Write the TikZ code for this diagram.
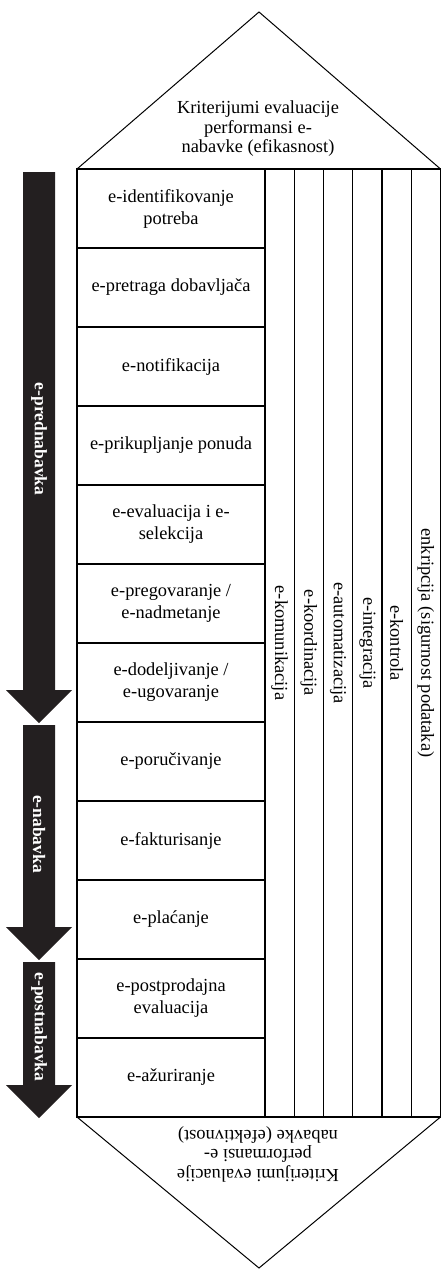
\documentclass[tikz,border=0pt]{standalone}
\usepackage{fontspec}
\setmainfont{Liberation Serif}
\definecolor{arrowblack}{HTML}{231F20}
\begin{document}
\begin{tikzpicture}[x=1pt,y=-1pt,
  cell/.style={draw, line width=1.2pt, minimum width=188pt, minimum height=79pt, inner sep=0pt, align=center, font=\fontsize{18.4}{22}\selectfont},
  col/.style={draw, line width=1.2pt, minimum width=29.25pt, minimum height=948pt, inner sep=0pt},
  vlab/.style={rotate=-90, font=\fontsize{18.4}{22}\selectfont, inner sep=0pt},
  phase/.style={fill=arrowblack, draw=none},
  plab/.style={rotate=-90, text=white, font=\bfseries\fontsize{17.5}{20}\selectfont, inner sep=0pt},
  tri/.style={draw, line width=1pt, line join=miter},
  tlab/.style={align=center, font=\fontsize{18.4}{19.5}\selectfont, inner sep=0pt}]
\useasboundingbox (0,0) rectangle (442,1271);

% triangles
\draw[tri] (77,169) -- (259,12) -- (440.5,169);
\draw[tri] (77,1117) -- (259,1268) -- (440.5,1117);
\node[tlab] (toptext) at (258,129) {Kriterijumi evaluacije\\performansi e-\\nabavke (efikasnost)};
\node[tlab, rotate=180] (bottext) at (258,1154) {Kriterijumi evaluacije\\performansi e-\\nabavke (efektivnost)};

% columns
\foreach \i/\cx in {1/279.625, 2/308.875, 3/338.125, 4/367.375, 5/396.625, 6/425.875}
  \node[col] (c\i) at (\cx,643) {};
\node[vlab] (l1) at (c1.center) {e-komunikacija};
\node[vlab] (l2) at (c2.center) {e-koordinacija};
\node[vlab] (l3) at (c3.center) {e-automatizacija};
\node[vlab] (l4) at (c4.center) {e-integracija};
\node[vlab] (l5) at (c5.center) {e-kontrola};
\node[vlab] (l6) at (c6.center) {enkripcija (sigurnost podataka)};

% rows
\node[cell] (r1) at (171,208.5) {e-identifikovanje\\potreba};
\node[cell] (r2) at (171,287.5) {e-pretraga dobavljača};
\node[cell] (r3) at (171,366.5) {e-notifikacija};
\node[cell] (r4) at (171,445.5) {e-prikupljanje ponuda};
\node[cell] (r5) at (171,524.5) {e-evaluacija i e-\\selekcija};
\node[cell] (r6) at (171,603.5) {e-pregovaranje /\\e-nadmetanje};
\node[cell] (r7) at (171,682.5) {e-dodeljivanje /\\e-ugovaranje};
\node[cell] (r8) at (171,761.5) {e-poručivanje};
\node[cell] (r9) at (171,840.5) {e-fakturisanje};
\node[cell] (r10) at (171,919.5) {e-plaćanje};
\node[cell] (r11) at (171,998.5) {e-postprodajna\\evaluacija};
\node[cell] (r12) at (171,1077.5) {e-ažuriranje};

% phase arrows
\fill[phase] (23,172) -- (55,172) -- (55,690) -- (72,690) -- (39,723) -- (6,690) -- (23,690) -- cycle;
\fill[phase] (23,725) -- (55,725) -- (55,927) -- (72,927) -- (39,960) -- (6,927) -- (23,927) -- cycle;
\fill[phase] (23,962) -- (55,962) -- (55,1085) -- (72,1085) -- (39,1118) -- (6,1085) -- (23,1085) -- cycle;
\node[plab] (p1) at (39,439) {e-prednabavka};
\node[plab] (p2) at (39,834) {e-nabavka};
\node[plab] (p3) at (39,1027) {e-postnabavka};
\end{tikzpicture}
\end{document}
